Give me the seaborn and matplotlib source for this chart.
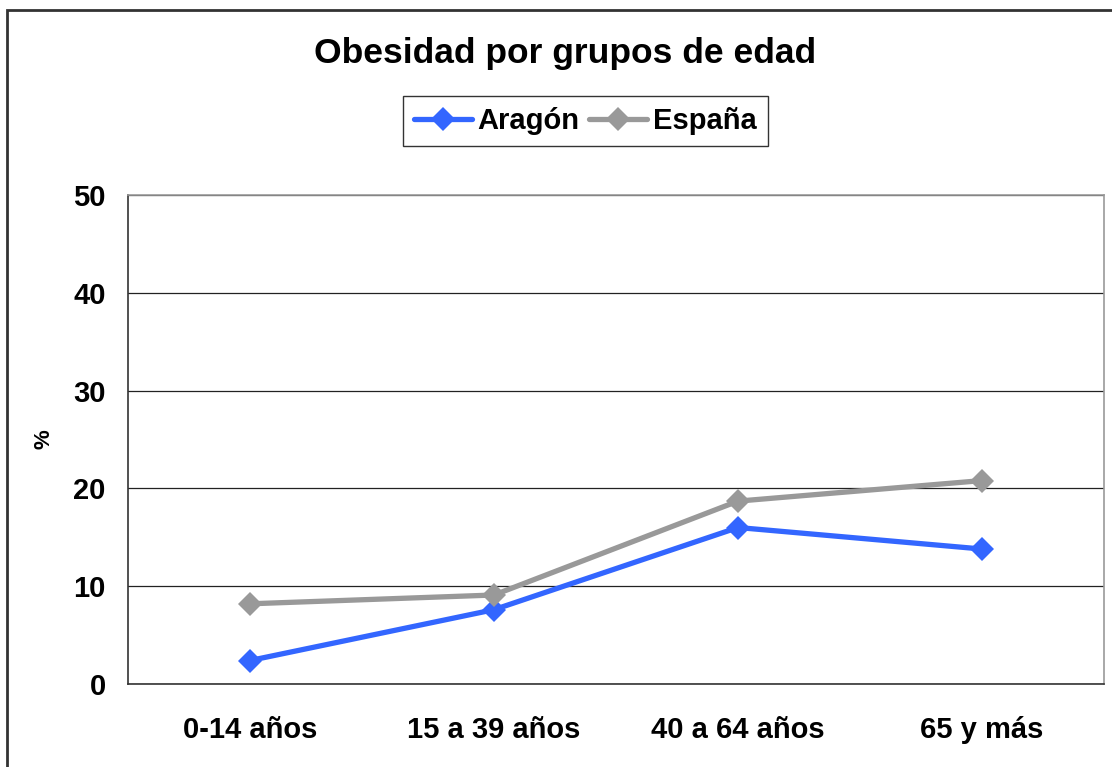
import pandas as pd
import numpy as np
import matplotlib
matplotlib.use('Agg')
import matplotlib.pyplot as plt
import seaborn as sns
from matplotlib.patches import Rectangle
from matplotlib.ticker import FixedLocator

# ------------------------------
# Data
# ------------------------------
grupos = ['0-14 años', '15 a 39 años', '40 a 64 años', '65 y más']
aragon = [2.4, 7.6, 16.0, 13.8]
espana = [8.2, 9.1, 18.7, 20.8]
series_names = ['Aragón', 'España']
colors = ['#3366FF', '#999999']

df = pd.DataFrame({
    'grupo': grupos * 2,
    'x': list(range(len(grupos))) * 2,
    'valor': aragon + espana,
    'serie': [series_names[0]] * len(grupos) + [series_names[1]] * len(grupos),
})

# ------------------------------
# Style
# ------------------------------
sns.set_style('white')
plt.rcParams['font.family'] = ['Liberation Sans', 'DejaVu Sans']
plt.rcParams['font.weight'] = 'bold'
plt.rcParams['text.color'] = 'black'
plt.rcParams['axes.labelcolor'] = 'black'

fig = plt.figure(figsize=(11.12, 7.67), dpi=100)
ax = fig.add_axes([128/1112, 1 - 684/767, (1104 - 128)/1112, (684 - 195)/767])

sns.lineplot(data=df, x='x', y='valor', hue='serie', style='serie',
             palette=dict(zip(series_names, colors)),
             markers={'Aragón': 'D', 'España': 'D'}, dashes=False,
             linewidth=3.8, markersize=12, markeredgewidth=0, ax=ax)

ax.set_xlim(-0.5, len(grupos) - 0.5)
ax.set_ylim(0, 50)
ax.set_yticks(np.arange(0, 51, 10))
ax.set_yticklabels([str(v) for v in range(0, 51, 10)], fontsize=21, fontweight='bold')
ax.set_xticks(range(len(grupos)))
ax.set_xticklabels(grupos, fontsize=21, fontweight='bold')
ax.tick_params(axis='x', which='major', length=0, pad=23, labelcolor='black')
ax.xaxis.set_minor_locator(FixedLocator(np.arange(-0.5, len(grupos), 1.0)))
ax.tick_params(axis='x', which='minor', length=7, width=1, color='#333333', direction='out')
ax.tick_params(axis='y', length=6, width=1, color='#333333', direction='out', pad=10,
               labelcolor='black')

ax.yaxis.grid(True, color='#222222', linewidth=0.9)
ax.set_axisbelow(True)
ax.set_xlabel('')
ax.set_ylabel('%', fontsize=16, fontweight='bold')
ax.yaxis.set_label_coords((55 - 128) / 976, 0.5)

for side in ['left', 'bottom']:
    ax.spines[side].set_color('#333333')
    ax.spines[side].set_linewidth(1.2)
for side in ['top', 'right']:
    ax.spines[side].set_visible(True)
    ax.spines[side].set_color('#999999')
    ax.spines[side].set_linewidth(1.2)

# Legend
handles, labels = ax.get_legend_handles_labels()
ax.legend_.remove()
leg = fig.legend(handles, labels, loc='center', bbox_to_anchor=(585/1112, 1 - 121/767),
                 ncol=2, frameon=True, fancybox=False,
                 prop={'weight': 'bold', 'size': 21}, handlelength=2.0,
                 columnspacing=0.3, handletextpad=0.2, borderpad=0.38,
                 borderaxespad=0)
leg.get_frame().set_edgecolor('black')
leg.get_frame().set_linewidth(1)

fig.text(565/1112, 1 - 54/767, 'Obesidad por grupos de edad', ha='center', va='center',
         fontsize=25.5, fontweight='bold')

# Outer chart border
fig.patches.append(Rectangle((7/1112, -0.1), 1.2, 1 - 10/767 + 0.1, transform=fig.transFigure,
                             fill=False, edgecolor='#333333', linewidth=2))

fig.savefig('out.png', dpi=100, facecolor='white')
